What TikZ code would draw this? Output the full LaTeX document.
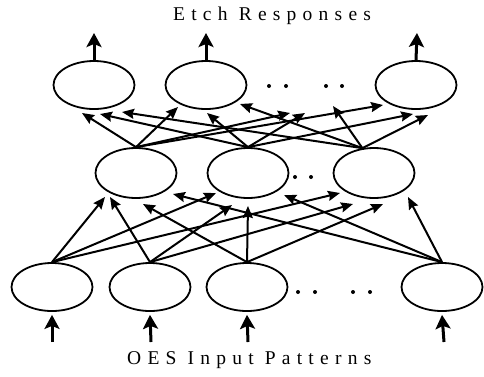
\documentclass[tikz,border=0pt]{standalone}
\usepackage{fontspec}
\setmainfont{Liberation Serif}
\usetikzlibrary{arrows.meta,calc,shapes.geometric}
\begin{document}
\begin{tikzpicture}[x=1pt,y=-1pt,
  neuron/.style={ellipse,draw,line width=1.8pt,minimum width=81pt,minimum height=48pt,inner sep=0pt},
  conn/.style={line width=2pt,-{Stealth[length=12pt,width=10pt,inset=1.5pt]}},
  io/.style={line width=3pt,-{Stealth[length=14pt,width=15pt,inset=3pt]}},
  caption/.style={font=\fontsize{19.5}{22}\selectfont\addfontfeature{LetterSpace=32},inner sep=0pt,anchor=base west},
  dotmark/.style={fill=black}
]
\useasboundingbox (0,0) rectangle (484,376);
% nodes
\node[neuron] (O1) at (94,85) {};
\node[neuron] (O2) at (206,85) {};
\node[neuron] (O3) at (416,85) {};
\node[neuron,minimum height=50pt] (H1) at (136,173) {};
\node[neuron,minimum height=50pt] (H2) at (248,173) {};
\node[neuron,minimum height=50pt] (H3) at (374,173) {};
\node[neuron] (I1) at (52,287) {};
\node[neuron] (I2) at (150,287) {};
\node[neuron] (I3) at (247,287) {};
\node[neuron] (I4) at (442,287) {};
% dots
\foreach \x in {269,286,326,342} \fill[dotmark] (\x,86) circle (2);
\foreach \x in {295,311} \fill[dotmark] (\x,177) circle (2);
\foreach \x in {298,315,353,370} \fill[dotmark] (\x,292) circle (2);
% free ends
\coordinate (g1) at (290,113);
\coordinate (g2) at (305,113);
\coordinate (g3) at (333,106);
\coordinate (r1) at (94,33);
\coordinate (r2) at (206,33);
\coordinate (r3) at (417,33);
\coordinate (a1) at (52,342);
\coordinate (a2) at (151,342);
\coordinate (a3) at (248,342);
\coordinate (a4) at (444,342);
% hidden -> output
\draw[conn] (H1.north) -- ($(O1)+(-12,28)$);
\draw[conn] (H2.north) -- ($(O1)+(6,29)$);
\draw[conn] (H3.115) -- ($(O1)+(28,27)$);
\draw[conn] (H1.north) -- ($(O2)+(-28,22)$);
\draw[conn] (H2.north) -- ($(O2)+(1,28)$);
\draw[conn] (H3.115) -- ($(O2)+(34,19)$);
\draw[conn] (H1.north) -- (g1);
\draw[conn] (H2.north) -- (g2);
\draw[conn] (H3.115) -- (g3);
\draw[conn] (H1.north) -- ($(O3)+(-33,20)$);
\draw[conn] (H2.north) -- ($(O3)+(-3,29)$);
\draw[conn] (H3.115) -- ($(O3)+(12,30)$);
% input -> hidden
\draw[conn] (I1.north) -- ($(H1)+(-31,24)$);
\draw[conn] (I2.north) -- ($(H1)+(-26,24)$);
\draw[conn] (I3.north) -- ($(H1)+(7,31)$);
\draw[conn] (I4.north) -- ($(H1)+(37,21)$);
\draw[conn] (I1.north) -- ($(H2)+(-32,20)$);
\draw[conn] (I2.north) -- ($(H2)+(-16,32)$);
\draw[conn] (I3.north) -- ($(H2)+(0,33)$);
\draw[conn] (I4.north) -- ($(H2)+(36,22)$);
\draw[conn] (I1.north) -- ($(H3)+(-34,20)$);
\draw[conn] (I2.north) -- ($(H3)+(-21,31)$);
\draw[conn] (I3.north) -- ($(H3)+(9,31)$);
\draw[conn] (I4.north) -- ($(H3)+(34,24)$);
% outputs and inputs
\draw[io] (O1.north) -- (r1);
\draw[io] (O2.north) -- (r2);
\draw[io] (O3.north) -- (r3);
\draw[io] (a1) -- ($(I1.south)+(0,3)$);
\draw[io] (a2) -- ($(I2.south)+(0,3)$);
\draw[io] (a3) -- ($(I3.south)+(0,3)$);
\draw[io] (a4) -- ($(I4.south)+(0,3)$);
% captions
\node[caption] (top) at (173,20) {Etch Responses};
\node[caption] (bottom) at (127,364) {OES Input Patterns};
\end{tikzpicture}
\end{document}
